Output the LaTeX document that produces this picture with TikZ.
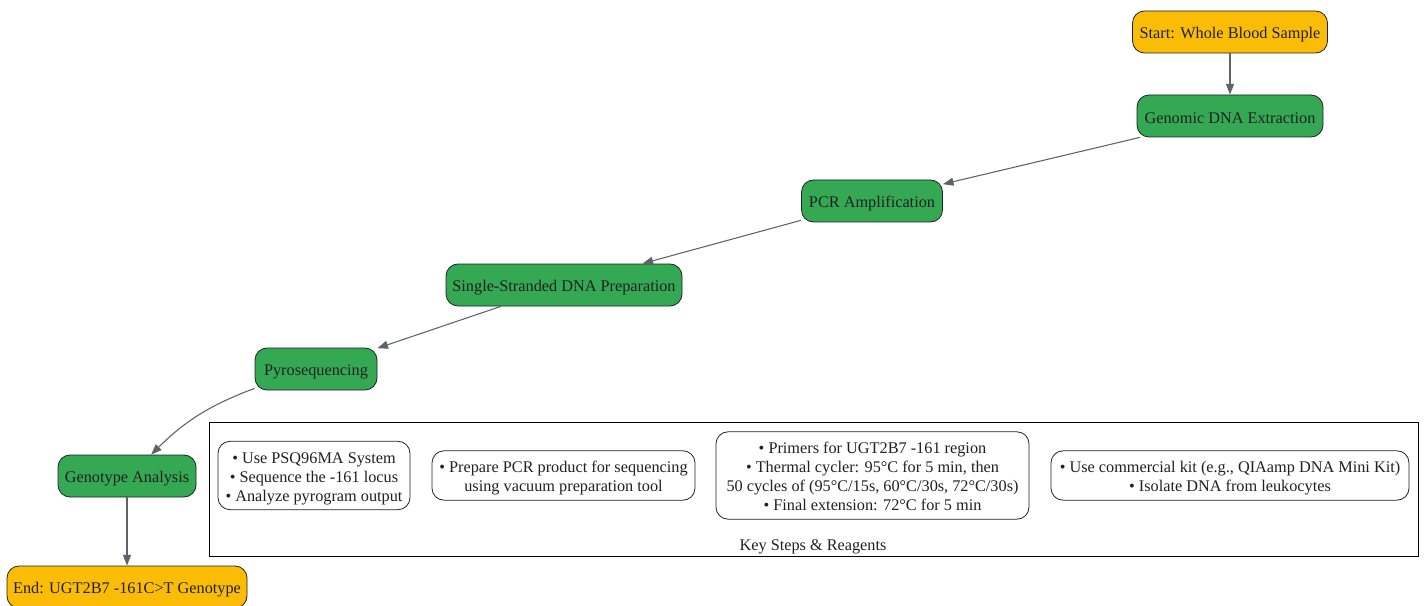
\documentclass[tikz,border=0pt]{standalone}
\usepackage{fontspec}
\setmainfont{Liberation Serif}
\usepackage{tikz}
\usetikzlibrary{arrows.meta,calc}
\definecolor{amber}{HTML}{FBBC05}
\definecolor{leaf}{HTML}{34A853}
\definecolor{wire}{HTML}{5F6368}
\definecolor{ink}{HTML}{202124}
\newcommand{\notelines}[1]{\raisebox{0pt}[\dimexpr\height+4.5pt\relax][\depth]{\begin{tabular}{@{}c@{}}#1\end{tabular}}}

\begin{document}
\begin{tikzpicture}[x=0.75pt,y=-0.75pt,
    every node/.style={font=\fontsize{12.2}{14.25}\selectfont,text=ink,align=center,inner sep=2pt,
        execute at begin node={\rule{0pt}{12pt}}},
    stepnode/.style={draw=ink,line width=0.6pt,rounded corners=9pt,fill=leaf,minimum height=31.5pt},
    endnode/.style={stepnode,fill=amber},
    notebox/.style={draw=ink,line width=0.6pt,rounded corners=9pt,fill=white},
    edge/.style={draw=wire,line width=0.8pt,-{Triangle[length=8pt,width=6pt]}}]

    % canvas
    \useasboundingbox (0,0) rectangle (1425,606);

    % main chain
    \node (start) [endnode,minimum width=146.25pt] at (1230,32) {Start: Whole Blood Sample};
    \node (dna) [stepnode,minimum width=139.5pt] at (1230,116) {Genomic DNA Extraction};
    \node (pcr) [stepnode,minimum width=105.75pt] at (872,201) {PCR Amplification};
    \node (ssdna) [stepnode,minimum width=177pt] at (564,285) {Single-Stranded DNA Preparation};
    \node (pyro) [stepnode,minimum width=91.5pt] at (316,369) {Pyrosequencing};
    \node (geno) [stepnode,minimum width=103.5pt] at (127,476) {Genotype Analysis};
    \node (finish) [endnode,minimum width=180pt] at (127,587) {End: UGT2B7 -161C>T Genotype};

    % key steps cluster
    \node (cluster) [draw=black,line width=0.6pt,minimum width=906.75pt,minimum height=100.5pt] at (813.5,489) {};
    \node (clabel) at (813,544) {Key Steps \& Reagents};

    \node (notepyro) [notebox,minimum width=144pt,minimum height=50.25pt] at (314,475.5)
        {\notelines{• Use PSQ96MA System\\ • Sequence the -161 locus\\ • Analyze pyrogram output}};
    \node (notessdna) [notebox,minimum width=197.25pt,minimum height=35.25pt] at (563.5,475.5)
        {\notelines{• Prepare PCR product for sequencing\\ using vacuum preparation tool}};
    \node (notepcr) [notebox,minimum width=234.75pt,minimum height=65.25pt] at (872.5,475.5)
        {\notelines{• Primers for UGT2B7 -161 region\\ • Thermal cycler: 95°C for 5 min, then\\ 50 cycles of (95°C/15s, 60°C/30s, 72°C/30s)\\ • Final extension: 72°C for 5 min}};
    \node (notedna) [notebox,minimum width=268.5pt,minimum height=35.25pt] at (1230,475.5)
        {\notelines{• Use commercial kit (e.g., QIAamp DNA Mini Kit)\\ • Isolate DNA from leukocytes}};

    % connectors
    \draw[edge] (start) -- (dna);
    \draw[edge] (dna) -- (pcr);
    \draw[edge] (pcr) -- (ssdna);
    \draw[edge] (ssdna) -- (pyro);
    \draw[edge] (pyro) to[bend right=12] (geno);
    \draw[edge] (geno) -- (finish);

\end{tikzpicture}
\end{document}
